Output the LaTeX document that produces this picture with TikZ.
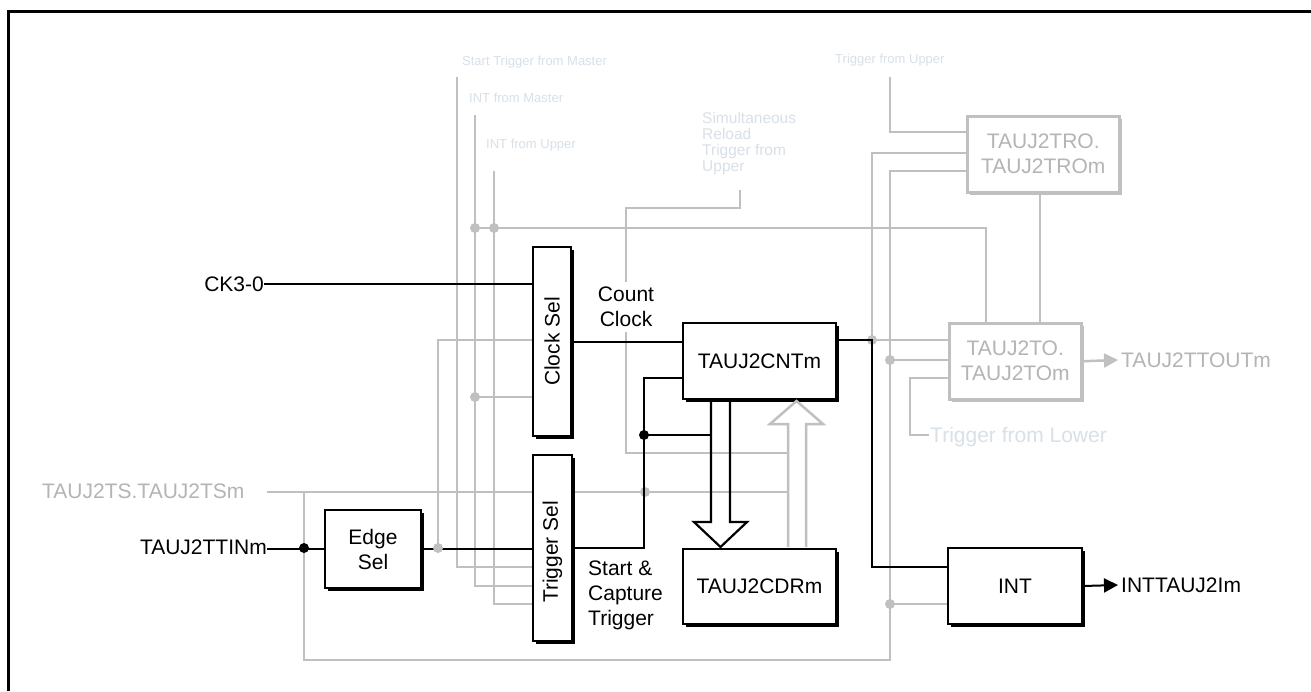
\documentclass[tikz,border=0pt]{standalone}
\usepackage{fontspec}
\setmainfont{Liberation Sans}
\usetikzlibrary{arrows.meta,shadows}
\definecolor{gl}{HTML}{C0C0C0}
\definecolor{gtx}{HTML}{B4B4B4}
\definecolor{lbl}{HTML}{D8E0E8}
\begin{document}
\begin{tikzpicture}[x=1pt,y=-1pt,
  every node/.style={inner sep=0pt,font=\fontsize{21}{25}\selectfont},
  gline/.style={draw=gl,line width=2.5pt},
  bline/.style={draw=black,line width=2pt},
  blk/.style={draw=black,line width=2pt,fill=white,anchor=north west,align=center,
    drop shadow={shadow xshift=3pt,shadow yshift=-3pt,opacity=1,fill=black}},
  gbox/.style={draw=gl,line width=2.5pt,fill=white,anchor=north west,text=gtx,align=center,
    drop shadow={shadow xshift=3pt,shadow yshift=-3pt,opacity=1,fill=gl}},
  gdot/.style={circle,fill=gl,minimum size=10pt},
  bdot/.style={circle,fill=black,minimum size=10pt},
  small/.style={text=lbl,font=\fontsize{13}{16}\selectfont,anchor=base west},
  tipb/.style={-{Triangle[length=14pt,width=14pt]}},
]
\useasboundingbox (0,0) rectangle (1311,691);
\fill[white] (0,0) rectangle (1311,691);
\draw[line width=3pt] (8,691) -- (8,11) -- (1311,11);

% labels of incoming signals
\node[small] (lstm) at (462,65.4) {Start Trigger from Master};
\node[small] (lintm) at (469,102.3) {INT from Master};
\node[small] (lintu) at (486,148.3) {INT from Upper};
\node[small] (ltu) at (835,63) {Trigger from Upper};
\node[text=lbl,font=\fontsize{15.5}{16}\selectfont,align=left,anchor=north west] (lsim) at (702,112) {Simultaneous\\Reload\\Trigger from\\Upper};
\node[anchor=base west,text=gtx] (tslab) at (42,498) {TAUJ2TS.TAUJ2TSm};
\node[anchor=base west,text=lbl] (tfl) at (930,442.5) {Trigger from Lower};

% grey wiring
\draw[gline] (267,492) -- (788,492);
\draw[gline] (304,492) -- (304,660) -- (890,660) -- (890,171) -- (966,171);
\draw[gline] (890,77) -- (890,132) -- (966,132);
\draw[gline] (966,153) -- (872,153) -- (872,340) -- (948,340);
\draw[gline] (890,360) -- (948,360);
\draw[gline] (948,378) -- (910,378) -- (910,435) -- (929,435);
\draw[gline] (1040,191) -- (1040,322);
\draw[gline] (475,228) -- (986,228) -- (986,322);
\draw[gline] (740,190) -- (740,208) -- (626,208) -- (626,453) -- (788,453);
\draw[gline] (457,77) -- (457,567) -- (532,567);
\draw[gline] (475,115) -- (475,586) -- (532,586);
\draw[gline] (494,171) -- (494,604) -- (532,604);
\draw[gline] (438,548) -- (438,340) -- (532,340);
\draw[gline] (475,397) -- (532,397);
\draw[gline] (890,604) -- (947,604);

\node[gdot] (g1) at (475,228) {};
\node[gdot] (g2) at (494,228) {};
\node[gdot] (g3) at (475,397) {};
\node[gdot] (g4) at (645,492) {};
\node[gdot] (g5) at (872,340) {};
\node[gdot] (g6) at (890,360) {};
\node[gdot] (g7) at (890,604) {};

% blocks
\node[blk,minimum width=38pt,minimum height=189pt] (cs) at (532,246) {};
\node[rotate=90] (cst) at (cs.center) {Clock Sel};
\node[blk,minimum width=39pt,minimum height=186pt] (ts) at (532,454) {};
\node[rotate=90] (tst) at ([yshift=-4pt]ts.center) {Trigger Sel};
\node[blk,minimum width=96pt,minimum height=78pt] (es) at (324,509) {Edge\\Sel};
\node[blk,minimum width=153pt,minimum height=76pt] (cnt) at (682,322) {TAUJ2CNTm};
\node[blk,minimum width=153pt,minimum height=75pt] (cdr) at (682,548) {TAUJ2CDRm};
\node[blk,minimum width=134pt,minimum height=76pt] (int) at (947,547) {INT};
\node[gbox,minimum width=152pt,minimum height=76pt] (tro) at (966,115) {TAUJ2TRO.\\TAUJ2TROm};
\node[gbox,minimum width=132pt,minimum height=76pt] (to) at (948,322) {TAUJ2TO.\\TAUJ2TOm};

% big arrows
\draw[line width=2.2pt,line join=miter] (711,399) -- (711,522) -- (694,522) -- (720.5,547) -- (747,522) -- (730,522) -- (730,399);
\draw[gline,line join=miter] (788,547) -- (788,424) -- (770,424) -- (796.5,401) -- (823,424) -- (806,424) -- (806,547);

% texts
\node[align=center,fill=white,inner xsep=2pt,inner ysep=5pt] (cc) at (626,307) {Count\\Clock};
\node[align=left,anchor=north west] (sct) at (588,561) {Start \&\\Capture\\Trigger};
\node[anchor=base east] (ck) at (264,291.5) {CK3-0};
\node[anchor=base east] (ttin) at (267,554) {TAUJ2TTINm};
\node[anchor=west,inner xsep=3pt,text=gtx] (ttout) at (1118,360) {TAUJ2TTOUTm};
\node[anchor=west,inner xsep=3pt] (intout) at (1118,585) {INTTAUJ2Im};

% black wiring
\draw[bline] (ck.east) -- (ck.east -| cs.west);
\draw[bline] (ttin.east |- es.west) -- (es.west);
\draw[bline] (es.east) -- (es.east -| ts.west);
\draw[bline] (ts.east) -| (644,378) -- (682,378);
\draw[bline] (cs.east) -- (cs.east -| cnt.west);
\draw[bline] (644,435) -- (711,435);
\draw[bline] (835,340) -- (872,340) -- (872,567) -- (947,567);
\draw[bline,tipb] (int.east) -- (intout.west);
\draw[gline,tipb] (to.east) -- (ttout.west);

\node[bdot] (d0) at (304,548) {};
\node[bdot] (d1) at (644,435) {};
\node[gdot] (g0) at (438,548) {};
\end{tikzpicture}
\end{document}
